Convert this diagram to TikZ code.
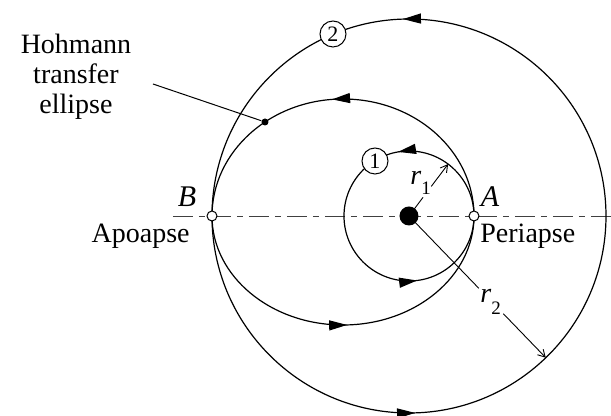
\documentclass[tikz,border=0pt]{standalone}
\usepackage{fontspec}
\setmainfont{Liberation Serif}
\usetikzlibrary{arrows.meta,decorations.markings,calc}
\begin{document}
\begin{tikzpicture}[x=0.5pt,y=0.5pt,
  orbit/.style={line width=0.6pt},
  tri/.tip={Triangle[length=9pt,width=5pt]},
  radline/.style={line width=0.45pt},
  radarrow/.style={line width=0.45pt,-{Straight Barb[length=3.5pt,width=4pt]}},
  axisline/.style={line width=0.45pt,black!75,dash pattern=on 10pt off 3pt on 3pt off 3pt},
  opendot/.style={circle,draw,line width=0.5pt,fill=white,inner sep=0pt,minimum size=5pt},
  bigdot/.style={circle,fill=black,inner sep=0pt,minimum size=9.5pt},
  smalldot/.style={circle,fill=black,inner sep=0pt,minimum size=3.5pt},
  numlabel/.style={circle,draw,line width=0.5pt,fill=white,inner sep=0pt,minimum size=13pt,font=\fontsize{11}{11}\selectfont},
  txt/.style={inner sep=0pt,font=\fontsize{14}{15}\selectfont},
  ptlabel/.style={inner sep=0pt,font=\fontsize{15}{18}\selectfont\itshape}
]
\useasboundingbox (-409,-200) rectangle (202,216);

% key coordinates
\coordinate (O) at (0,0);
\coordinate (pA) at (65,0);
\coordinate (pB) at (-197,0);
\coordinate (axL) at (-236,0);
\coordinate (axR) at (202,0);
\coordinate (P1) at (39.1,51.9);
\coordinate (P2) at (136.8,-141.7);
\coordinate (lead) at (-256,132);

% axis
\draw[axisline] (axL) -- (axR);

% orbit 2
\draw[orbit,postaction={decorate},decoration={markings,
  mark=at position 0.2549 with {\arrow{tri}},
  mark=at position 0.7549 with {\arrow{tri}}}]
  (O) circle[radius=197];

% orbit 1
\draw[orbit,postaction={decorate},decoration={markings,
  mark=at position 0.277 with {\arrow{tri}},
  mark=at position 0.77 with {\arrow{tri}}}]
  (O) circle[radius=65];

% transfer ellipse
\draw[orbit,postaction={decorate},decoration={markings,
  mark=at position 0.528 with {\arrow{tri}}}]
  (pA) arc[start angle=0,end angle=180,x radius=131,y radius=117];
\draw[orbit,postaction={decorate},decoration={markings,
  mark=at position 0.511 with {\arrow{tri}}}]
  (pB) arc[start angle=180,end angle=360,x radius=131,y radius=109];

% radii
\draw[radline] (O) -- ($(O)!0.36!(P1)$);
\draw[radarrow] ($(O)!0.57!(P1)$) -- (P1);
\draw[radline] (O) -- ($(O)!0.51!(P2)$);
\draw[radarrow] ($(O)!0.69!(P2)$) -- (P2);

\node[inner sep=0pt,anchor=base west,font=\fontsize{14}{15}\selectfont] (r1) at (1,31)
  {\itshape r\upshape\raisebox{-5pt}{\fontsize{9.5}{10}\selectfont 1}};
\node[inner sep=0pt,anchor=base west,font=\fontsize{14}{15}\selectfont] (r2) at (71,-87)
  {\itshape r\upshape\raisebox{-6pt}{\fontsize{9.5}{10}\selectfont 2}};

% Hohmann label and leader
\node[txt,align=center] (hte) at (-333,139.5) {Hohmann\\transfer\\ellipse};
\node[smalldot] (edot) at (-144,94) {};
\draw[line width=0.5pt] (lead) -- (edot);

% orbit number labels
\node[numlabel] (n2) at (-76,182) {2};
\node[numlabel] (n1) at (-34,55) {1};

% points
\node[opendot] (A) at (pA) {};
\node[opendot] (B) at (pB) {};
\node[bigdot] (planet) at (O) {};

\node[ptlabel] (Alab) at (81,19) {A};
\node[ptlabel] (Blab) at (-222,19) {B};
\node[txt,anchor=base east] (apo) at (-219,-27) {Apoapse};
\node[txt,anchor=base west] (peri) at (71,-27) {Periapse};
\end{tikzpicture}
\end{document}
